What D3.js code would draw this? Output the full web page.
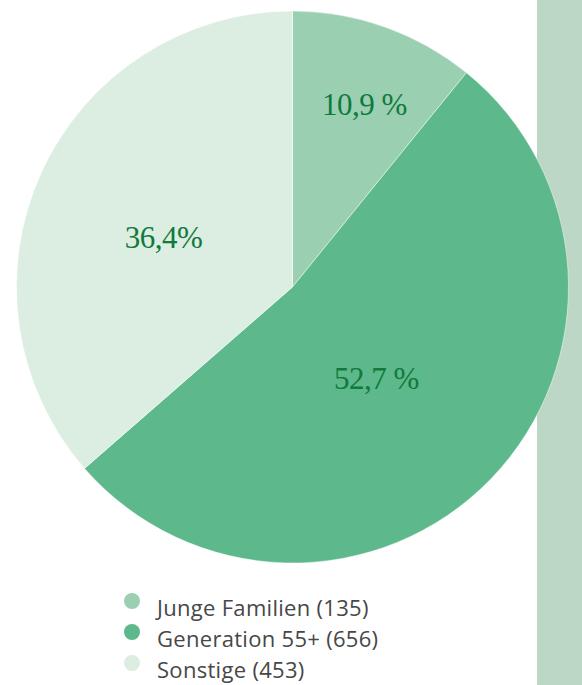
<!DOCTYPE html>
<html>
<head>
<meta charset="utf-8">
<script src="https://cdn.jsdelivr.net/npm/d3@7"></script>
<style>
  body { margin: 0; background: #fff; }
  svg { display: block; }
</style>
</head>
<body>
<svg id="chart" width="582" height="685"></svg>
<script>
const categories = ['Junge Familien', 'Generation 55+', 'Sonstige'];
const counts = [135, 656, 453];
const percentLabels = ['10,9 %', '52,7 %', '36,4%'];
const colors = ['#9ad0b1', '#5db88b', '#dcede2'];

const width = 582, height = 685;
const cx = 292.5, cy = 287, radius = 276;
// label placement: distance from centre and small angle tweak (degrees)
const labelLayout = [{ r: 196, shift: 2 }, { r: 124, shift: 3.5 }, { r: 138, shift: -3.5 }];

const svg = d3.select('#chart');

svg.append('rect')
    .attr('x', 537)
    .attr('y', 0)
    .attr('width', width - 537)
    .attr('height', height)
    .attr('fill', '#bcd7c5');

const data = categories.map((c, i) => ({ name: c, value: counts[i], label: percentLabels[i], color: colors[i] }));

const pie = d3.pie().sort(null).value(d => d.value);
const arc = d3.arc().innerRadius(0).outerRadius(radius);

const g = svg.append('g').attr('transform', `translate(${cx},${cy})`);

const arcs = pie(data);

g.selectAll('path')
    .data(arcs)
    .enter()
    .append('path')
    .attr('d', arc)
    .attr('fill', d => d.data.color)
    .attr('stroke', '#ffffff')
    .attr('stroke-opacity', 0.6)
    .attr('stroke-width', 0.8);

g.selectAll('text.pct')
    .data(arcs)
    .enter()
    .append('text')
    .attr('class', 'pct')
    .attr('transform', (d, i) => {
        const a = (d.startAngle + d.endAngle) / 2 + labelLayout[i].shift * Math.PI / 180;
        const p = d3.pointRadial(a, labelLayout[i].r);
        return `translate(${p[0]},${p[1]})`;
    })
    .attr('text-anchor', 'middle')
    .attr('dy', '0.33em')
    .style('font-family', '"Liberation Serif", "DejaVu Serif", serif')
    .style('font-size', '31px')
    .style('letter-spacing', '-0.5px')
    .style('fill', '#107a3d')
    .text(d => d.data.label);

const legend = svg.append('g').attr('transform', 'translate(132,601)');
const rowH = 31;

const items = legend.selectAll('g')
    .data(data)
    .enter()
    .append('g')
    .attr('transform', (d, i) => `translate(0,${i * rowH})`);

items.append('circle')
    .attr('r', 8)
    .attr('fill', d => d.color);

items.append('text')
    .attr('x', 25)
    .attr('y', 15)
    .style('font-family', '"Open Sans", "Noto Sans", sans-serif')
    .style('font-size', '22px')
    .style('letter-spacing', '0.3px')
    .style('fill', '#474747')
    .text(d => `${d.name} (${d.value})`);
</script>
</body>
</html>
